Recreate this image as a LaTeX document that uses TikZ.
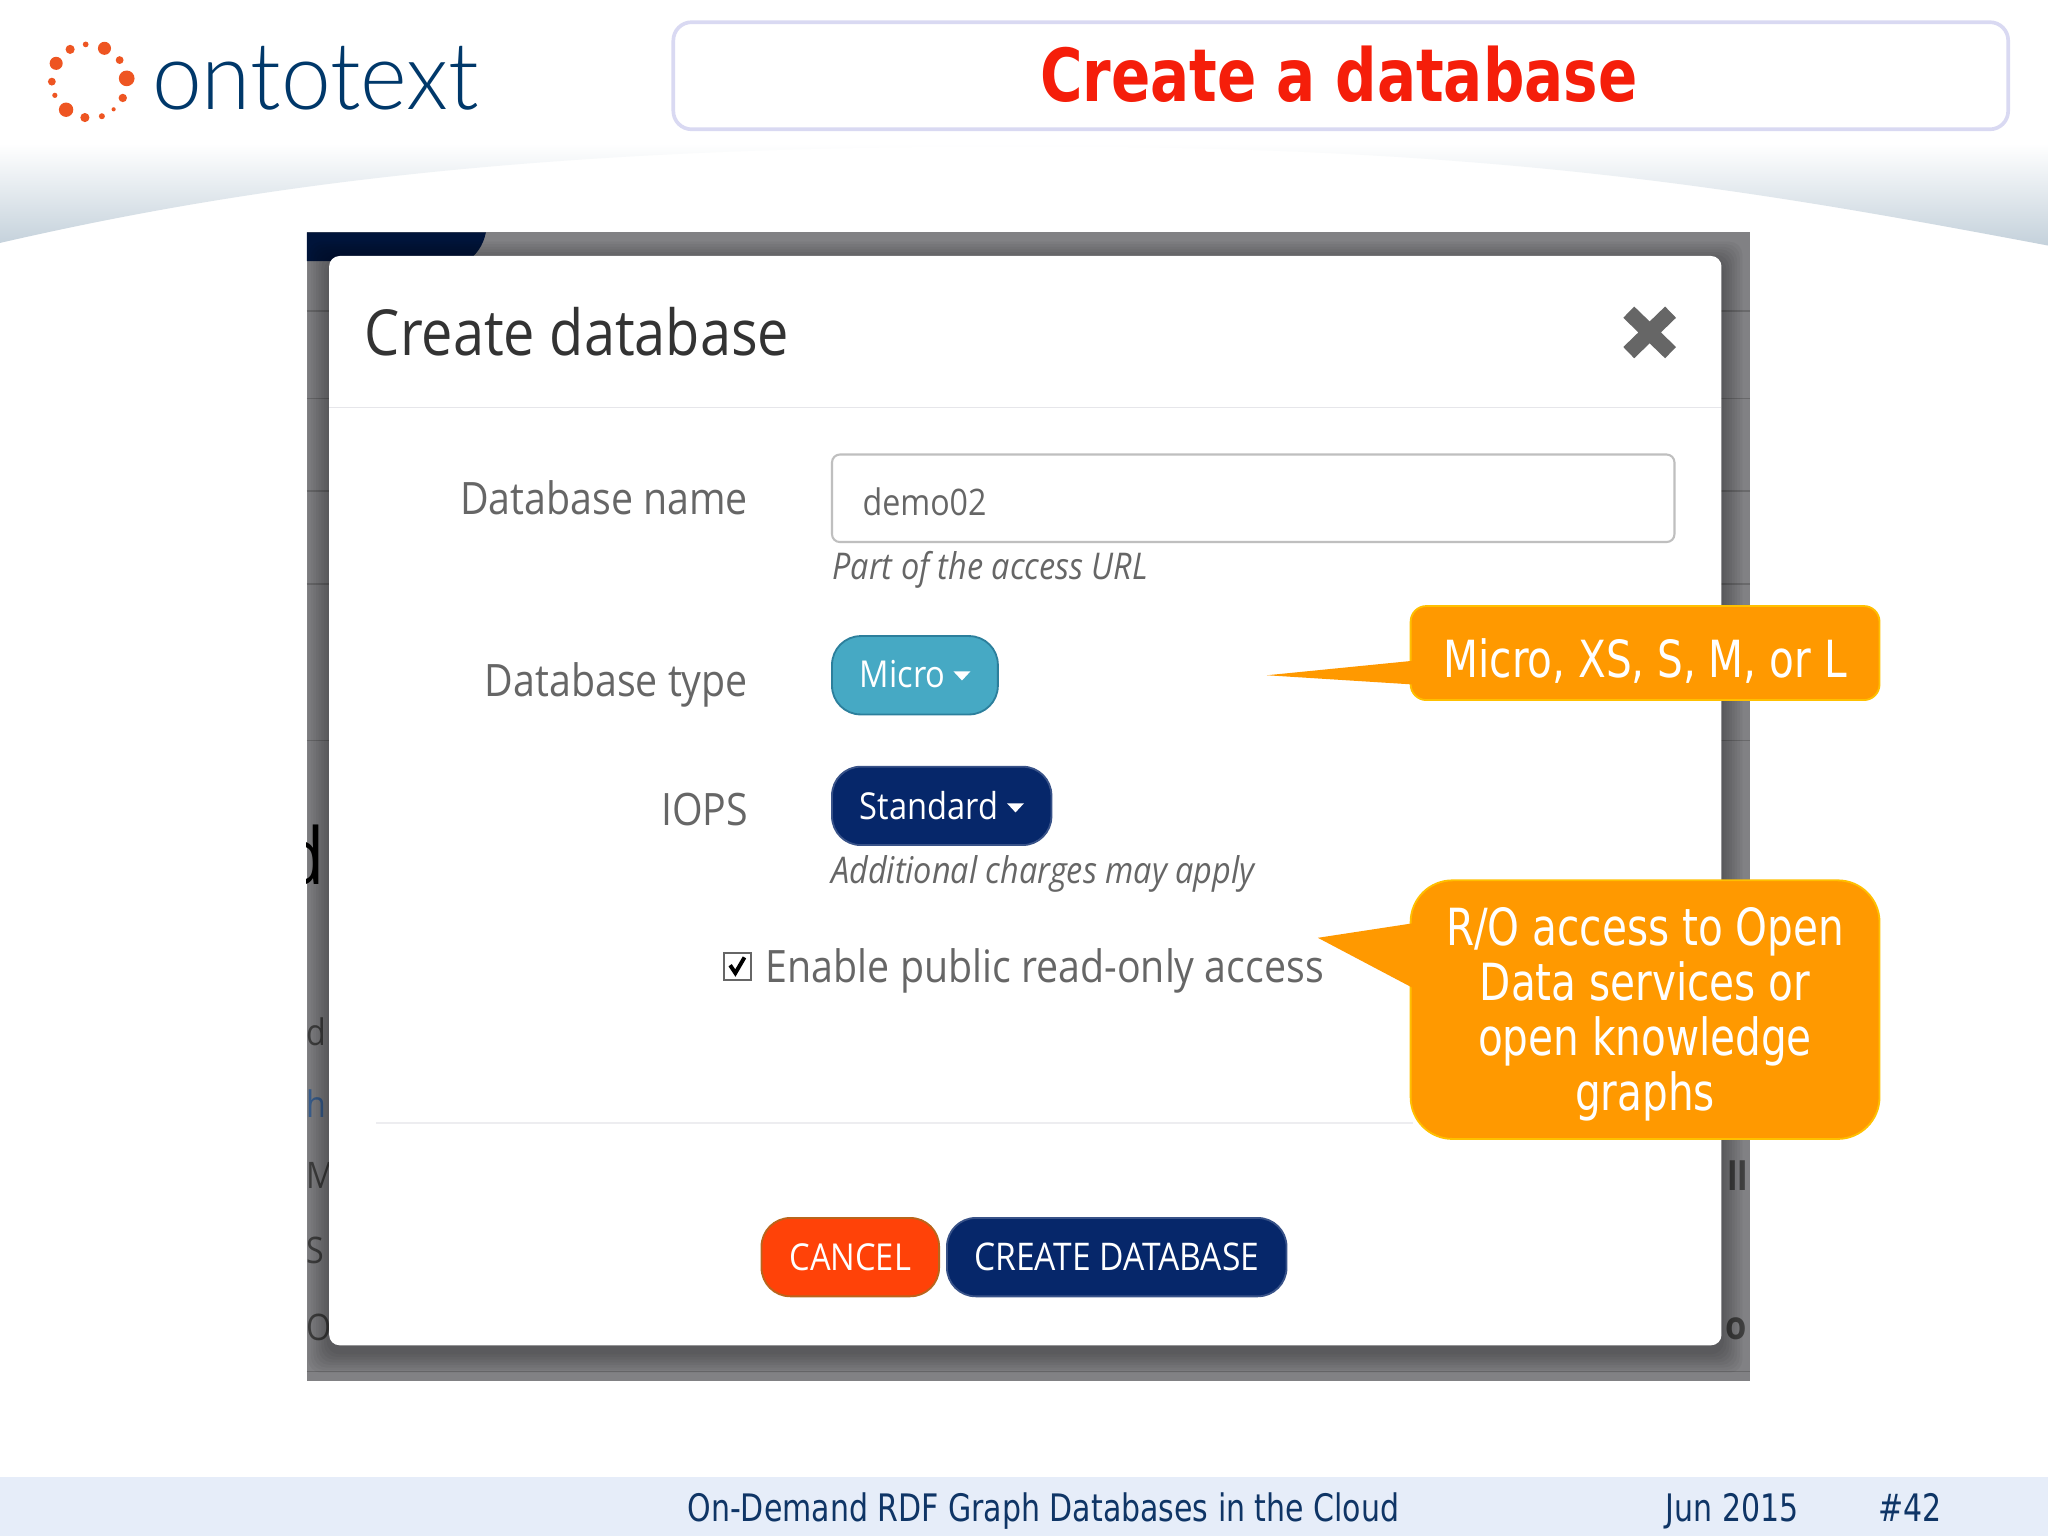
\documentclass[tikz,border=0pt]{standalone}
\usepackage{fontspec}
\setmainfont[FakeStretch=0.88]{Open Sans}
\newfontfamily\slidefont[FakeStretch=0.88]{DejaVu Sans Condensed}
\newfontfamily\logofont[FakeStretch=0.95]{Lato Light}
\usepackage{xcolor}
\usetikzlibrary{calc}
\definecolor{titlered}{HTML}{F51E0A}
\definecolor{titleline}{HTML}{D9D9F2}
\definecolor{logodot}{HTML}{EE5522}
\definecolor{logonavy}{HTML}{00386A}
\definecolor{arcgrey}{HTML}{C4D1DB}
\definecolor{footband}{HTML}{E6EDF9}
\definecolor{footnavy}{HTML}{0F3566}
\definecolor{shot}{HTML}{818184}
\definecolor{shotline}{HTML}{69696B}
\definecolor{blob}{HTML}{00143A}
\definecolor{formgrey}{HTML}{666666}
\definecolor{headgrey}{HTML}{333333}
\definecolor{rulegrey}{HTML}{E6E6EA}
\definecolor{micro}{HTML}{46A9C4}
\definecolor{microline}{HTML}{2C7F9C}
\definecolor{navybtn}{HTML}{06276A}
\definecolor{cancel}{HTML}{FF4208}
\definecolor{cancelline}{HTML}{B9651C}
\definecolor{callout}{HTML}{FF9900}
\definecolor{calloutline}{HTML}{FFC000}
\definecolor{cutblue}{HTML}{3A5F8F}
\tikzset{
  titlebox/.style={draw=titleline, line width=1.4pt, rounded corners=7pt, fill=white},
  lab/.style={text=formgrey, font=\fontsize{17.1}{20}\selectfont, anchor=east, inner sep=0},
  hint/.style={text=formgrey, font=\fontsize{14.1}{17}\selectfont\itshape, anchor=west, inner sep=0},
  btn/.style={text=white, font=\fontsize{14.2}{17}\selectfont, inner sep=0, minimum height=30pt, rounded corners=11pt, line width=0.7pt},
  calloutbox/.style={draw=calloutline, fill=callout, text=white, align=center, line width=0.7pt,
    inner sep=0, font=\slidefont\fontsize{19.6}{21}\selectfont},
  foot/.style={text=footnavy, font=\slidefont\fontsize{14.5}{17}\selectfont, inner sep=0, anchor=base west},
  cut/.style={text=black!75, font=\fontsize{14}{16}\selectfont, anchor=west, inner sep=0}
}

\begin{document}
\begin{tikzpicture}[x=0.5pt, y=-0.5pt]
  \useasboundingbox (0,0) rectangle (1568,1176);
  \fill[white] (0,0) rectangle (1568,1176);

  % Slide background
  \shade[top color=white, bottom color=arcgrey] (0,110) -- (0,186)
    .. controls (200,140) and (420,112) .. (784,112)
    .. controls (1150,112) and (1340,145) .. (1568,188) -- (1568,110) -- cycle;
  \fill[footband] (0,1131) rectangle (1568,1176);

  \foreach \x/\y/\r in {43/48.5/5, 53.7/37.8/3.5, 65.6/34/2.2, 80/37/5, 91.6/46/3, 97/60/6, 94/75/3.2,
      87/83.7/1.6, 78/89/2.3, 65/90/3.5, 50.6/84/5.5, 42/73/2, 39.7/62.5/3}
    \fill[logodot] (\x,\y) circle (\r);
  \node[text=logonavy, font=\logofont\fontsize{36}{36}\selectfont, anchor=west, inner sep=0] (logo) at (116,60) {ontotext};

  \node[titlebox, minimum width=511pt, minimum height=41pt] (titleframe) at (1026.5,58) {};
  \node[text=titlered, font=\slidefont\bfseries\fontsize{28}{30}\selectfont, inner sep=0] (title) at (1025,57) {Create a database};

  % Screenshot behind the dialog
  \begin{scope}
    \clip (235,178) rectangle (1340,1057);
    \fill[shot] (235,178) rectangle (1340,1057);
    \foreach \y in {238,305,376,447,567,1050}
      \draw[shotline, line width=0.6pt] (235,\y) -- (1340,\y);
    \fill[blob] (235,178) -- (372,178) .. controls (370,188) and (364,197) .. (356,200) -- (235,200) -- cycle;
    \node[text=black, font=\fontsize{30}{30}\selectfont, anchor=east, inner sep=0] (cutA) at (249,655) {d};
    \node[cut] (cutB) at (234,790) {d};
    \node[cut, text=cutblue] (cutC) at (234,845) {h};
    \node[cut] (cutD) at (234,900) {M};
    \node[cut] (cutE) at (234,957) {S};
    \node[cut] (cutF) at (234,1016) {O};
    \node[cut, anchor=east, font=\bfseries\fontsize{15}{16}\selectfont] (cutG) at (1339,900) {ll};
    \node[cut, anchor=west, font=\bfseries\fontsize{15}{16}\selectfont] (cutH) at (1321,1017) {o};
    \foreach \d in {2,4,...,16}
      \fill[black, opacity=0.04, rounded corners=5pt] (252-\d,196-\d+5) rectangle (1318+\d,1030+\d+5);
  \end{scope}

  % Dialog
  \fill[white, rounded corners=4pt] (252,196) rectangle (1318,1030);
  \node[text=headgrey, font=\fontsize{24.3}{28}\selectfont, anchor=west, inner sep=0] (head) at (279,254) {Create database};
  \draw[formgrey, line width=6pt] (1247,239) -- (1279,270) (1279,239) -- (1247,270);
  \draw[rulegrey, line width=0.6pt] (252,312) -- (1318,312);
  \draw[rulegrey!70, line width=0.6pt] (288,860) -- (1082,860);

  \node[lab] (nameLab) at (573,381) {Database name};
  \node[lab] (typeLab) at (573,524) {Database type};
  \node[lab] (iopsLab) at (573,620) {IOPS};

  \node[draw=black!25, rounded corners=3pt, line width=0.8pt, minimum width=322.5pt, minimum height=33.5pt] (nameBox) at (959.5,381.5) {};
  \node[text=formgrey, font=\fontsize{14}{16}\selectfont, anchor=west, inner sep=0] (nameVal) at (660,384) {demo02};
  \node[hint] (nameHint) at (637,436) {Part of the access URL};

  \node[btn, fill=micro, draw=microline, minimum width=63.5pt] (microBtn) at (700.5,517) {};
  \node[text=white, font=\fontsize{14.2}{17}\selectfont, anchor=west, inner sep=0] (microTxt) at (658,516) {Micro};
  \fill[white] (730,514) -- (743,514) -- (736.5,521) -- cycle;

  \node[btn, fill=navybtn, draw=navybtn!80!white, minimum width=84pt] (stdBtn) at (721,617) {};
  \node[text=white, font=\fontsize{14.2}{17}\selectfont, anchor=west, inner sep=0] (stdTxt) at (658,617) {Standard};
  \fill[white] (771,615) -- (784,615) -- (777.5,622) -- cycle;
  \node[hint] (stdHint) at (636,669) {Additional charges may apply};

  \node[draw=black!60, fill=white, line width=0.7pt, minimum size=10.5pt, inner sep=0] (check) at (564.5,740) {};
  \draw[black, line width=1.5pt] (559,739) -- (563,745) -- (570,733);
  \node[lab, anchor=west] (publicLab) at (586,743) {Enable public read-only access};

  \node[btn, fill=cancel, draw=cancelline, minimum width=68pt] (cancelBtn) at (651,962.5) {CANCEL};
  \node[btn, fill=navybtn, draw=navybtn!80!white, minimum width=130pt, font=\fontsize{14.6}{17}\selectfont] (createBtn) at (855,962.5) {CREATE DATABASE};

  % Callouts
  \node[calloutbox, rounded corners=6pt, minimum width=179.5pt, minimum height=36pt] (sizes) at (1259.5,500) {\rule{0pt}{21.1pt}Micro, XS, S, M, or L};
  \coordinate (sizesTip) at (970,517);
  \fill[callout] (sizesTip) -- (1081,506) -- (1081,524) -- cycle;

  \node[calloutbox, rounded corners=16pt, minimum width=179.5pt, minimum height=99pt] (access) at (1259.5,773)
    {\rule{0pt}{18.1pt}R/O access to Open\\Data services or\\open knowledge\\graphs};
  \coordinate (accessTip) at (1009,718);
  \fill[callout] (accessTip) -- (1081,707) -- (1081,756) -- cycle;

  % Footer
  \node[foot] (footTitle) at (526,1165) {On-Demand RDF Graph Databases in the Cloud};
  \node[foot] (footDate) at (1275,1165) {Jun 2015};
  \node[foot] (footNum) at (1438,1165) {\#42};
\end{tikzpicture}
\end{document}
